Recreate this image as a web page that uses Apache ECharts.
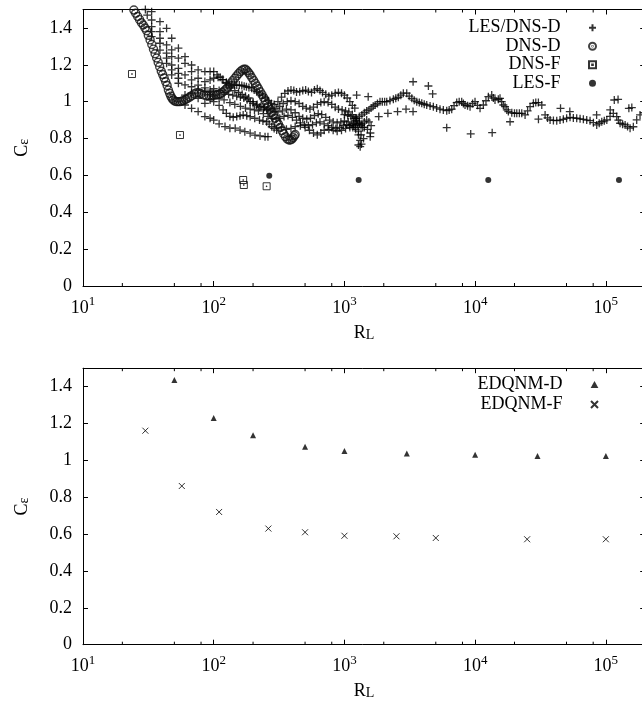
<!DOCTYPE html>
<html><head><meta charset="utf-8">
<script src="https://cdn.jsdelivr.net/npm/echarts@6/dist/echarts.min.js"></script>
<style>html,body{margin:0;padding:0;background:#fff}#c{width:642px;height:704px}</style>
</head><body><div id="c"></div><script>
// ---------- data (R_L, C_eps) ----------
const lesTrackA = [[30,1.50],[33.5,1.488],[38.8,1.434],[43.6,1.398],[47.7,1.344],[53.7,1.29],[60.3,1.244],[67.7,1.199],[76,1.172],[85.6,1.163],[93.8,1.163],[100,1.163],[106,1.145],[112,1.133],[118,1.12],[125,1.105],[131,1.095],[137,1.09],[144,1.09],[150,1.09],[157,1.09],[164,1.088],[171,1.084],[178,1.081],[186,1.077],[195,1.073],[204,1.063],[213,1.054],[224,1.046],[236,1.035],[248,1.02],[262,1.005],[276,0.99],[290,0.985],[310,1.0],[330,1.025],[350,1.045],[370,1.058],[390,1.063],[410,1.06],[430,1.052],[455,1.054],[480,1.06],[505,1.063],[530,1.055],[560,1.05],[590,1.063],[620,1.07],[650,1.06],[680,1.05],[720,1.04],[760,1.03],[800,1.035],[850,1.045],[900,1.05],[950,1.045],[1000,1.035],[1050,1.02],[1100,1.0],[1150,0.98],[1200,0.965]];
const lesTrackB = [[31,1.47],[33.5,1.443],[38.8,1.38],[43.6,1.308],[47.7,1.281],[53.7,1.236],[60.3,1.208],[67.7,1.163],[76,1.127],[85.6,1.109],[93.8,1.118],[100,1.127],[108,1.133],[116,1.12],[125,1.10],[135,1.075],[145,1.06],[155,1.05],[165,1.04],[175,1.03],[185,1.02],[200,1.0],[215,0.985],[230,0.975],[245,0.97],[260,0.965],[280,0.96],[300,0.965],[320,0.975],[340,0.99],[365,1.0],[390,1.005],[420,1.0],[450,0.99],[480,0.975],[510,0.965],[545,0.96],[580,0.97],[620,0.985],[660,0.995],[700,1.0],[750,0.995],[800,0.985],[850,0.97],[900,0.96],[960,0.955],[1020,0.95],[1080,0.945],[1150,0.93],[1220,0.91],[1300,0.88],[1380,0.86]];
const lesTrackC = [[33.5,1.407],[38.8,1.344],[43.6,1.263],[47.7,1.244],[53.7,1.181],[60.3,1.145],[67.7,1.118],[76,1.09],[85.6,1.075],[93.8,1.063],[100,1.07],[110,1.06],[120,1.05],[130,1.04],[140,1.035],[150,1.03],[160,1.025],[170,1.02],[180,1.01],[190,1.0],[200,0.99],[212,0.98],[225,0.97],[240,0.96],[255,0.955],[270,0.95],[290,0.945],[310,0.945],[335,0.95],[360,0.96],[390,0.955],[420,0.94],[450,0.92],[480,0.91],[515,0.905],[550,0.91],[590,0.925],[630,0.935],[670,0.93],[720,0.915],[770,0.9],[820,0.89],[880,0.885],[940,0.89],[1000,0.895],[1070,0.89],[1140,0.875],[1210,0.86],[1280,0.84],[1340,0.82],[1400,0.80]];
const lesTrackD = [[33.5,1.38],[38.8,1.317],[43.6,1.236],[47.7,1.199],[53.7,1.154],[60.3,1.091],[67.7,1.081],[76,1.063],[85.6,1.054],[93.8,1.04],[100,1.03],[110,1.02],[120,1.01],[133,0.995],[145,0.985],[160,0.975],[175,0.965],[190,0.96],[205,0.955],[220,0.95],[240,0.935],[260,0.92],[280,0.91],[300,0.905],[320,0.91],[345,0.92],[370,0.925],[400,0.915],[430,0.9],[460,0.885],[495,0.875],[530,0.87],[570,0.875],[610,0.885],[650,0.89],[700,0.88],[750,0.87],[800,0.86],[860,0.855],[920,0.86],[980,0.87],[1040,0.875],[1100,0.87],[1160,0.86],[1220,0.85],[1280,0.82],[1320,0.79],[1350,0.77]];
const lesTrackE = [[33.5,1.353],[38.8,1.28],[43.6,1.208],[47.7,1.172],[53.7,1.127],[60.3,1.036],[67.7,1.046],[76,1.018],[85.6,0.991],[93.8,1.009],[100,1.0],[110,0.98],[118,0.955],[125,0.937],[133,0.92],[141,0.915],[150,0.919],[159,0.924],[168,0.928],[179,0.924],[190,0.919],[206,0.91],[224,0.90],[238,0.895],[254,0.891],[266,0.878],[278,0.864],[290,0.855],[303,0.846],[330,0.86],[360,0.85],[390,0.855],[420,0.865],[460,0.87],[500,0.86],[540,0.845],[580,0.83],[620,0.82],[660,0.83],[700,0.845],[760,0.85],[820,0.845],[880,0.84],[950,0.845],[1020,0.855],[1100,0.86],[1180,0.87],[1260,0.875],[1340,0.87],[1420,0.86],[1500,0.85],[1580,0.83]];
const lesTrackF = [[47.7,1.145],[53.7,1.10],[60.3,0.982],[67.7,0.964],[76,0.946],[85.6,0.919],[93.8,0.91],[100,0.90],[110,0.88],[122,0.865],[133,0.856],[146,0.856],[159,0.846],[173,0.837],[190,0.829],[207,0.819],[226,0.814],[247,0.81],[260,0.81]];
const lesTrackG = [[1000,0.93],[1060,0.925],[1120,0.92],[1180,0.91],[1240,0.895],[1300,0.885],[1360,0.88],[1420,0.89],[1480,0.9],[1540,0.89],[1600,0.87]];
const lesLongTrack = [[1170,0.883],[1205,0.90],[1240,0.91],[1300,0.92],[1360,0.928],[1420,0.94],[1480,0.95],[1540,0.955],[1600,0.965],[1660,0.975],[1720,0.982],[1790,0.99],[1871,1.0],[1950,1.0],[2030,1.0],[2107,1.0],[2230,1.006],[2368,1.013],[2470,1.018],[2585,1.024],[2700,1.035],[2823,1.046],[2997,1.046],[3130,1.03],[3276,1.018],[3420,1.008],[3576,1.0],[3740,0.995],[3904,0.991],[4080,0.986],[4262,0.982],[4520,0.977],[4789,0.973],[5070,0.966],[5384,0.959],[5710,0.955],[6062,0.951],[6330,0.955],[6620,0.959],[6900,0.978],[7229,0.995],[7550,1.0],[7892,1.0],[8130,0.99],[8370,0.982],[8750,0.978],[9144,0.973],[9560,0.99],[9979,1.0],[10430,0.98],[10900,0.964],[11560,0.982],[12100,1.005],[12620,1.027],[13390,1.036],[13780,1.02],[14190,1.009],[15040,1.013],[15500,1.018],[15960,1.0],[16430,0.982],[16930,0.973],[17470,0.955],[17950,0.946],[19070,0.94],[20000,0.937],[20820,0.937],[21800,0.937],[22730,0.937],[24100,0.928],[25200,0.95],[26320,0.973],[27900,0.991],[29100,0.995],[30470,0.995],[32340,0.982],[34290,0.928],[35800,0.912],[37440,0.901],[39700,0.898],[42100,0.897],[44600,0.9],[47290,0.904],[50100,0.91],[53200,0.915],[56400,0.912],[59840,0.91],[63500,0.907],[67300,0.904],[71400,0.9],[75700,0.897],[80300,0.886],[85140,0.874],[89000,0.883],[93050,0.891],[97300,0.896],[101700,0.901],[107700,0.92],[114100,0.937],[121100,0.919],[124700,0.9],[128500,0.883],[134300,0.878],[140400,0.874],[146600,0.865],[153200,0.856],[162300,0.864],[172200,0.901],[182600,0.928],[195000,0.94]];
const lesSparse = [[1240,1.036],[1520,1.027],[1830,0.919],[2150,0.937],[2550,0.946],[2960,0.959],[3352,1.108],[3350,0.946],[4390,1.085],[4730,1.042],[6060,0.859],[9250,0.825],[13500,0.832],[18500,0.891],[30500,0.905],[45000,0.964],[53000,0.946],[85000,0.928],[108000,0.955],[116000,1.009],[124000,1.012],[150000,0.964],[158000,0.968],[1280,0.765],[1320,0.756],[1575,0.81]];

const dnsD = [[24.5,1.497],[25.3,1.48],[26.2,1.462],[27.1,1.445],[28,1.428],[28.9,1.416],[29.8,1.40],[30.7,1.385],[31.6,1.36],[32.6,1.335],[33.6,1.31],[34.6,1.285],[35.6,1.26],[36.6,1.237],[37.6,1.213],[38.6,1.19],[39.7,1.165],[40.7,1.147],[41.8,1.128],[42.9,1.108],[44,1.088],[45,1.063],[46,1.045],[47,1.03],[48,1.018],[49.1,1.009],[50.5,1.003],[52,1.0],[53.5,1.0],[55.2,1.0],[57,1.003],[59,1.007],[61,1.012],[63,1.018],[65.5,1.025],[68,1.033],[71,1.042],[74,1.049],[77,1.048],[80,1.043],[84,1.036],[88,1.033],[92,1.033],[96,1.034],[100,1.035],[104,1.036],[108,1.037],[112,1.043],[116,1.05],[120,1.058],[124,1.067],[128,1.078],[132,1.09],[136,1.102],[140,1.114],[145,1.127],[150,1.14],[155,1.152],[160,1.163],[165,1.171],[170,1.176],[175,1.176],[180,1.168],[185,1.157],[190,1.145],[196,1.13],[202,1.115],[208,1.10],[214,1.085],[220,1.07],[227,1.054],[234,1.038],[241,1.022],[248,1.006],[255,0.99],[262,0.975],[270,0.958],[278,0.942],[286,0.926],[295,0.91],[304,0.893],[313,0.877],[323,0.86],[333,0.843],[343,0.826],[354,0.81],[365,0.798],[376,0.792],[386,0.792],[396,0.797],[405,0.805],[414,0.815],[420,0.822]];
const dnsF = [[23.7,1.15],[55.2,0.819],[168,0.575],[170,0.548],[254,0.541]];
const lesF = [[266,0.598],[1285,0.575],[12600,0.575],[126000,0.575]];
const edqnmD = [[50,1.436],[100,1.23],[200,1.136],[500,1.074],[1000,1.051],[3000,1.037],[10000,1.031],[30000,1.024],[100000,1.024]];
const edqnmF = [[30,1.161],[57,0.861],[110,0.72],[262,0.63],[500,0.61],[1000,0.591],[2500,0.588],[5000,0.579],[25000,0.572],[100000,0.572]];

const xTickExponents = [1,2,3,4,5];
const minorTickValues = [20,50,80,200,500,800,2000,5000,8000,20000,50000,80000];
const legendTop = ['LES/DNS-D','DNS-D','DNS-F','LES-F'];
const legendBottom = ['EDQNM-D','EDQNM-F'];

// ---------- chart ----------
const FONT = '"Liberation Serif","Times New Roman",serif';
const chart = echarts.init(document.getElementById('c'), null, {renderer:'canvas'});
const lesAll = [].concat(lesTrackA, lesTrackB, lesTrackC, lesTrackD, lesTrackE, lesTrackF, lesTrackG, lesLongTrack, lesSparse);

function xLabel(v){
  const e = Math.log10(v), r = Math.round(e);
  if (Math.abs(e - r) > 1e-6 || xTickExponents.indexOf(r) < 0) return '';
  return '{b|10}{s|' + r + '}';
}
function yLabel(v){ return v > 1.45 ? '' : String(Math.round(v*10)/10); }

const xRich = {
  b:{fontSize:18, fontFamily:FONT, color:'#000', lineHeight:22, verticalAlign:'bottom'},
  s:{fontSize:13, fontFamily:FONT, color:'#000', lineHeight:13, verticalAlign:'top'}
};
const nameRich = {
  r:{fontSize:18, fontFamily:FONT, color:'#000', lineHeight:18, verticalAlign:'top'},
  l:{fontSize:14, fontFamily:FONT, color:'#000', lineHeight:14, verticalAlign:'bottom', padding:[17,0,0,0]}
};

const grids = [], xAxes = [], yAxes = [], series = [];
const gridTops = [9.5, 368.2];
gridTops.forEach((top, gi) => {
  grids.push({left:83, top:top, width:562.2, height:276.5, containLabel:false, outerBoundsMode:'none'});
  const baseX = {type:'log', logBase:10, min:10, max:200000, gridIndex:gi,
    axisLine:{show:true, onZero:false, lineStyle:{color:'#000', width:1}},
    axisTick:{show:true, inside:true, length:5, lineStyle:{color:'#000', width:1}},
    minorTick:{show:false}, splitLine:{show:false}};
  xAxes.push(Object.assign({}, baseX, {position:'bottom',
    axisLabel:{formatter:xLabel, margin:9, rich:xRich, showMaxLabel:false},
    name:'{r|R}{l|L}', nameLocation:'middle', nameGap:38, nameMoveOverlap:false, nameTextStyle:{rich:nameRich}}));
  xAxes.push(Object.assign({}, baseX, {position:'top', axisLabel:{show:false}}));
  const baseY = {type:'value', min:0, max:1.5, interval:0.2, gridIndex:gi,
    axisLine:{show:true, onZero:false, lineStyle:{color:'#000', width:1}},
    axisTick:{show:true, inside:true, length:5, lineStyle:{color:'#000', width:1}},
    splitLine:{show:false}};
  yAxes.push(Object.assign({}, baseY, {position:'left',
    axisLabel:{formatter:yLabel, margin:11, fontSize:18, fontFamily:FONT, color:'#000'},
    name:'{c|C}{e|ε}', nameLocation:'middle', nameRotate:90, nameGap:52,
    nameTextStyle:{rich:{
      c:{fontSize:18, fontFamily:FONT, color:'#000', lineHeight:18, verticalAlign:'top'},
      e:{fontSize:14, fontFamily:FONT, color:'#000', lineHeight:14, verticalAlign:'bottom', padding:[10,0,0,0]}}}}));
  yAxes.push(Object.assign({}, baseY, {position:'right', axisLabel:{show:false}}));
  series.push({type:'custom', xAxisIndex:2*gi, yAxisIndex:2*gi, silent:true, clip:false,
    data: minorTickValues.map(v => [v, 0]),
    renderItem:(params, api) => {
      const b = api.coord([api.value(0), 0]);
      const t = api.coord([api.value(0), 1.5]);
      return {type:'group', children:[
        {type:'line', shape:{x1:b[0], y1:b[1], x2:b[0], y2:b[1]-3}, style:{stroke:'#000', lineWidth:1}},
        {type:'line', shape:{x1:t[0], y1:t[1], x2:t[0], y2:t[1]+3}, style:{stroke:'#000', lineWidth:1}}
      ]};
    }});
});

const PLUS = 'path://M0,5L10,5M5,0L5,10';
const CROSS = 'path://M0,0L10,10M10,0L0,10';
const TRI = 'path://M5,0L10,9L0,9Z';
const CIRC_DOT = 'path://M0,5A5,5 0 1,0 10,5A5,5 0 1,0 0,5ZM4.6,5A0.4,0.4 0 1,0 5.4,5A0.4,0.4 0 1,0 4.6,5Z';
const SQ_DOT = 'path://M0,0L10,0L10,10L0,10ZM4.5,4.5L5.5,4.5L5.5,5.5L4.5,5.5Z';

series.push(
  {name:'LES/DNS-D', type:'scatter', xAxisIndex:0, yAxisIndex:0, data:lesAll, symbol:PLUS, symbolSize:8,
   itemStyle:{color:'transparent', borderColor:'#000', borderWidth:1.3}, z:2},
  {name:'DNS-D', type:'scatter', xAxisIndex:0, yAxisIndex:0, data:dnsD, symbol:CIRC_DOT, symbolSize:8,
   itemStyle:{color:'transparent', borderColor:'#111', borderWidth:1.4}, z:3},
  {name:'DNS-F', type:'scatter', xAxisIndex:0, yAxisIndex:0, data:dnsF, symbol:SQ_DOT, symbolSize:7,
   itemStyle:{color:'transparent', borderColor:'#000', borderWidth:1}, z:3},
  {name:'LES-F', type:'scatter', xAxisIndex:0, yAxisIndex:0, data:lesF, symbol:'circle', symbolSize:6,
   itemStyle:{color:'#000'}, z:3},
  {name:'EDQNM-D', type:'scatter', xAxisIndex:2, yAxisIndex:2, data:edqnmD, symbol:TRI, symbolSize:6,
   itemStyle:{color:'#000'}, z:3},
  {name:'EDQNM-F', type:'scatter', xAxisIndex:2, yAxisIndex:2, data:edqnmF, symbol:CROSS, symbolSize:6,
   itemStyle:{color:'transparent', borderColor:'#000', borderWidth:1}, z:3}
);

const legendText = {fontFamily:FONT, fontSize:18, color:'#000', lineHeight:18.5};
chart.setOption({
  animation:false,
  backgroundColor:'#fff',
  grid:grids, xAxis:xAxes, yAxis:yAxes, series:series,
  legend:[
    {data:legendTop, orient:'vertical', align:'right', right:45, top:18.5, padding:0, itemGap:0,
     itemWidth:54, itemHeight:7, selectedMode:false, symbolKeepAspect:true, textStyle:legendText},
    {data:legendBottom, orient:'vertical', align:'right', right:43, top:374.5, padding:0, itemGap:0,
     itemWidth:54, itemHeight:7, selectedMode:false, symbolKeepAspect:true, textStyle:Object.assign({}, legendText, {lineHeight:20})}
  ]
});
</script></body></html>
